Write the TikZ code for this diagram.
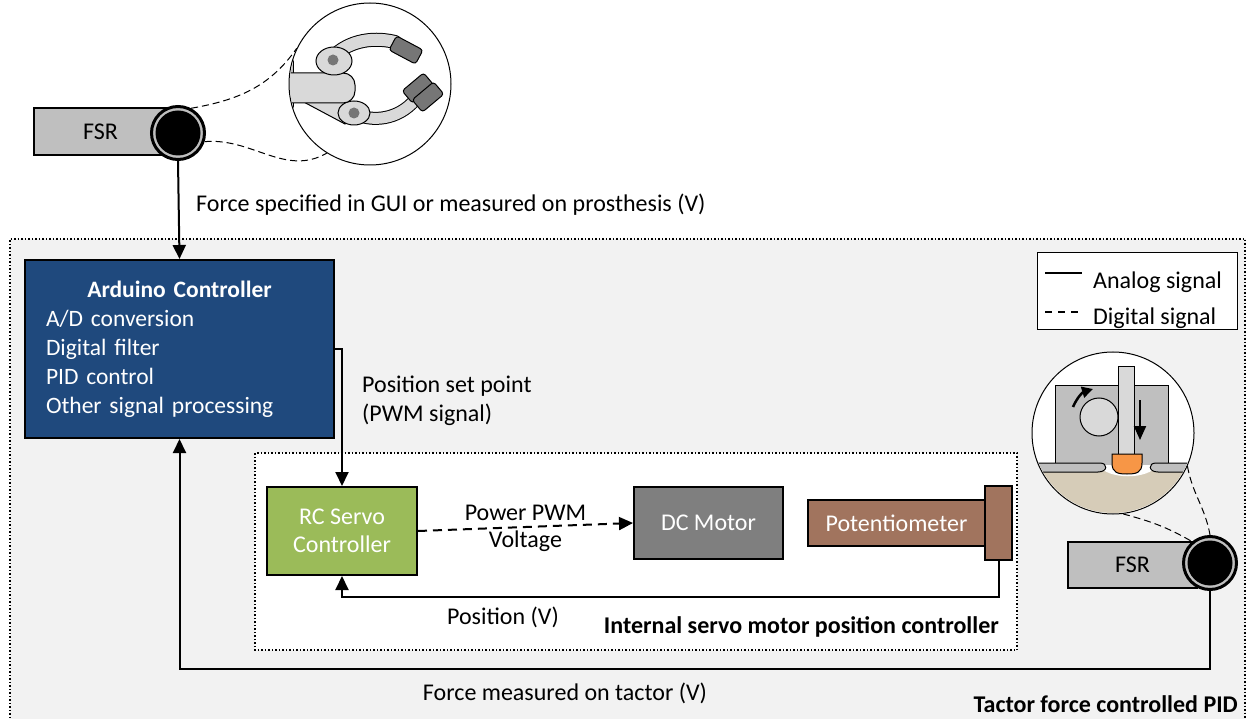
\documentclass[tikz,border=0pt]{standalone}
\usepackage{fontspec}
\setmainfont{Carlito}
\usetikzlibrary{positioning,arrows.meta}

\definecolor{arduinoBlue}{RGB}{31,73,125}
\definecolor{servoGreen}{RGB}{155,187,89}
\definecolor{motorGrey}{RGB}{127,127,127}
\definecolor{potBrown}{RGB}{161,116,94}
\definecolor{panelGrey}{RGB}{242,242,242}
\definecolor{fsrGrey}{RGB}{191,191,191}
\definecolor{lightPart}{RGB}{217,217,217}
\definecolor{padGrey}{RGB}{118,118,118}
\definecolor{skinTan}{RGB}{214,204,184}
\definecolor{tipOrange}{RGB}{247,150,70}

\tikzset{
    txt/.style={font=\fontsize{24}{29}\selectfont, inner sep=0pt},
    boldTxt/.style={font=\fontsize{24}{29}\selectfont\bfseries, inner sep=0pt},
    block/.style={draw, line width=2pt, text=white, align=center, inner sep=0pt,
        font=\fontsize{24}{28}\selectfont},
    sig/.style={line width=2pt, -{Triangle[length=14pt,width=13pt]}},
    fsrBar/.style={draw, line width=2pt, fill=fsrGrey, minimum width=133pt,
        minimum height=47pt, inner sep=0pt, font=\fontsize{24}{28}\selectfont},
    fsrRing/.style={circle, draw, line width=3pt, fill=fsrGrey, minimum size=53pt,
        inner sep=0pt, path picture={\fill[black] (path picture bounding box.center) circle (22.5pt);}},
    zoomLink/.style={dashed, dash pattern=on 7pt off 4pt, line width=1pt},
    lens/.style={circle, draw, line width=1pt, fill=white, inner sep=0pt},
    boxFrame/.style={dotted, line width=1.5pt}
}

\begin{document}
\begin{tikzpicture}[x=1pt, y=-1pt]
    \useasboundingbox (0,0) rectangle (1248,719);

    % tactor PID region and the servo's own loop
    \fill[panelGrey] (10,239) rectangle (1246,725);
    \draw[boxFrame] (10,725) -- (10,239) -- (1245,239) -- (1245,725);
    \filldraw[boxFrame, fill=white] (255,453) rectangle (1017,650);

    % sensor on the prosthesis
    \node[fsrBar] (fsrTop) at (100.5,131.5) {FSR};
    \node[fsrRing] (ringTop) at (178,133) {};
    \node[lens, minimum size=162pt] (grip) at (370,84) {};
    \begin{scope}
        \clip (370,84) circle (80pt);
        \fill[fsrGrey] (280,0) rectangle (293,170);
        \draw[line width=1pt] (293,0) -- (293,170);
        % lower finger
        \filldraw[fill=lightPart, line width=1pt] (300,100) -- (345,124) -- (360,104) -- (330,98) -- cycle;
        \draw[line width=13pt, line cap=round] (356,114) .. controls (372,122) and (398,120) .. (415,100);
        \draw[line width=11pt, lightPart, line cap=round] (356,114) .. controls (372,122) and (398,120) .. (415,100);
        \filldraw[fill=lightPart, line width=1pt] (354,113) ellipse (16pt and 12pt);
        \fill[padGrey] (354,113) circle (5.5pt);
        \filldraw[fill=padGrey, line width=1pt, rounded corners=3pt, rotate around={40:(418,88)}] (404,80) rectangle (432,96);
        \filldraw[fill=padGrey, line width=1pt, rounded corners=3pt, rotate around={40:(428,97)}] (414,89) rectangle (442,105);
        % palm
        \filldraw[fill=lightPart, line width=1pt, rounded corners=12pt] (260,73) rectangle (355,103);
        % upper finger
        \draw[line width=14pt, line cap=round] (330,60) .. controls (345,42) and (370,36) .. (395,42);
        \draw[line width=12pt, lightPart, line cap=round] (330,60) .. controls (345,42) and (370,36) .. (395,42);
        \filldraw[fill=lightPart, line width=1pt] (334,61) ellipse (18pt and 14pt);
        \fill[padGrey] (333,60) circle (5.5pt);
        \filldraw[fill=padGrey, line width=1pt, rounded corners=3pt, rotate around={-28:(406,50)}] (391,42) rectangle (421,58);
    \end{scope}
    \draw[zoomLink] (ringTop.62) to[out=10, in=235] (grip.154);
    \draw[zoomLink] (ringTop.342) to[out=5, in=210] (grip.238);

    \node[txt, anchor=west] (forceGui) at (196,205) {Force specified in GUI or measured on prosthesis (V)};

    % controller
    \node[block, fill=arduinoBlue, minimum width=309pt, minimum height=178pt,
        text width=267pt, align=left, font=\fontsize{23.5}{29}\selectfont] (arduino) at (179.5,349)
        {\makebox[\linewidth][c]{\bfseries Arduino Controller}\\A/D conversion\\Digital filter\\PID control\\Other signal processing};
    \draw[sig] (ringTop.south) -- (arduino.north);

    % servo internals
    \node[block, fill=servoGreen, minimum width=150pt, minimum height=88pt] (rcServo) at (342,531) {RC Servo\\Controller};
    \node[block, fill=motorGrey, minimum width=149pt, minimum height=72pt,
        right=215pt of rcServo.north east, anchor=north west] (dcMotor) {DC Motor};
    \node[block, fill=potBrown, minimum width=177pt, minimum height=46pt, right=23pt of dcMotor] (pot) {Potentiometer};
    \node[block, fill=potBrown, minimum width=27pt, minimum height=74pt, right=-2pt of pot] (potKnob) {};

    \draw[sig] (arduino.east) -| (rcServo.north);
    \node[txt, anchor=west, align=left] (setPoint) at (362,401) {Position set point\\(PWM signal)};

    \draw[sig, dashed, dash pattern=on 9pt off 6pt] (rcServo.east) -- (dcMotor.west)
        node[txt, midway, above=5pt] (pwmLabel) {Power PWM}
        node[txt, midway, below=3pt] (voltLabel) {Voltage};

    \draw[sig] (potKnob.south) -- ++(0,36) -| (rcServo.south);
    \node[txt] (posLabel) at (503,617) {Position (V)};
    \node[boldTxt, anchor=east] (servoTitle) at (999,627) {Internal servo motor position controller};

    % legend
    \node[draw, line width=1pt, fill=white, minimum width=200pt, minimum height=77pt, inner sep=0pt] (legend) at (1137,291.5) {};
    \draw[line width=1.5pt] (1045,273) -- (1082,273);
    \draw[line width=1.5pt, dashed, dash pattern=on 7pt off 6pt] (1045,312) -- (1082,312);
    \node[txt, anchor=west] (analogKey) at (1093,282) {Analog signal};
    \node[txt, anchor=west] (digitalKey) at (1093,318) {Digital signal};

    % tactor on the skin
    \node[lens, minimum size=162pt] (tactor) at (1113,433) {};
    \begin{scope}
        \clip (1113,433) circle (80pt);
        \fill[skinTan] (1020,466) rectangle (1210,530);
        \filldraw[fill=fsrGrey, line width=1pt] (1055,385) rectangle (1168,465);
        \fill[white] (1098,465) .. controls (1108,480) and (1148,480) .. (1158,465) -- cycle;
        \filldraw[fill=fsrGrey, line width=1pt] (1020,463) -- (1100,463) .. controls (1108,463) and (1108,472) .. (1098,472) -- (1020,472);
        \filldraw[fill=fsrGrey, line width=1pt] (1210,463) -- (1156,463) .. controls (1148,463) and (1148,472) .. (1158,472) -- (1210,472);
    \end{scope}
    \filldraw[fill=lightPart, line width=1pt] (1099,417) circle (19pt);
    \filldraw[fill=lightPart, line width=1pt] (1118,367) rectangle (1134,454);
    \filldraw[fill=tipOrange, line width=1pt] (1112,454) -- (1142,454) -- (1142,463)
        .. controls (1142,473) and (1136,474) .. (1127,474) .. controls (1118,474) and (1112,473) .. (1112,463) -- cycle;
    \draw[line width=2pt, -{Triangle[length=14pt,width=12pt]}] (1140,400) -- (1140,440);
    \draw[line width=2.5pt, -{Triangle[length=11pt,width=11pt]}] (1073,407) to[bend left=25] (1093,389);

    \node[fsrBar, minimum width=129pt, minimum height=46pt] (fsrSkin) at (1132.5,565) {FSR};
    \node[fsrRing] (ringSkin) at (1210,563) {};
    \draw[zoomLink] (tactor.277) to[out=-15, in=150] (ringSkin.130);
    \draw[zoomLink] (tactor.336) to[out=-80, in=100] (ringSkin.north);

    % tactor force loop
    \draw[sig] (ringSkin.south) -- ++(0,78) -| (arduino.south);
    \node[txt] (forceTactor) at (565,693) {Force measured on tactor (V)};
    \node[boldTxt, anchor=east] (pidTitle) at (1238,704) {Tactor force controlled PID};
\end{tikzpicture}
\end{document}
